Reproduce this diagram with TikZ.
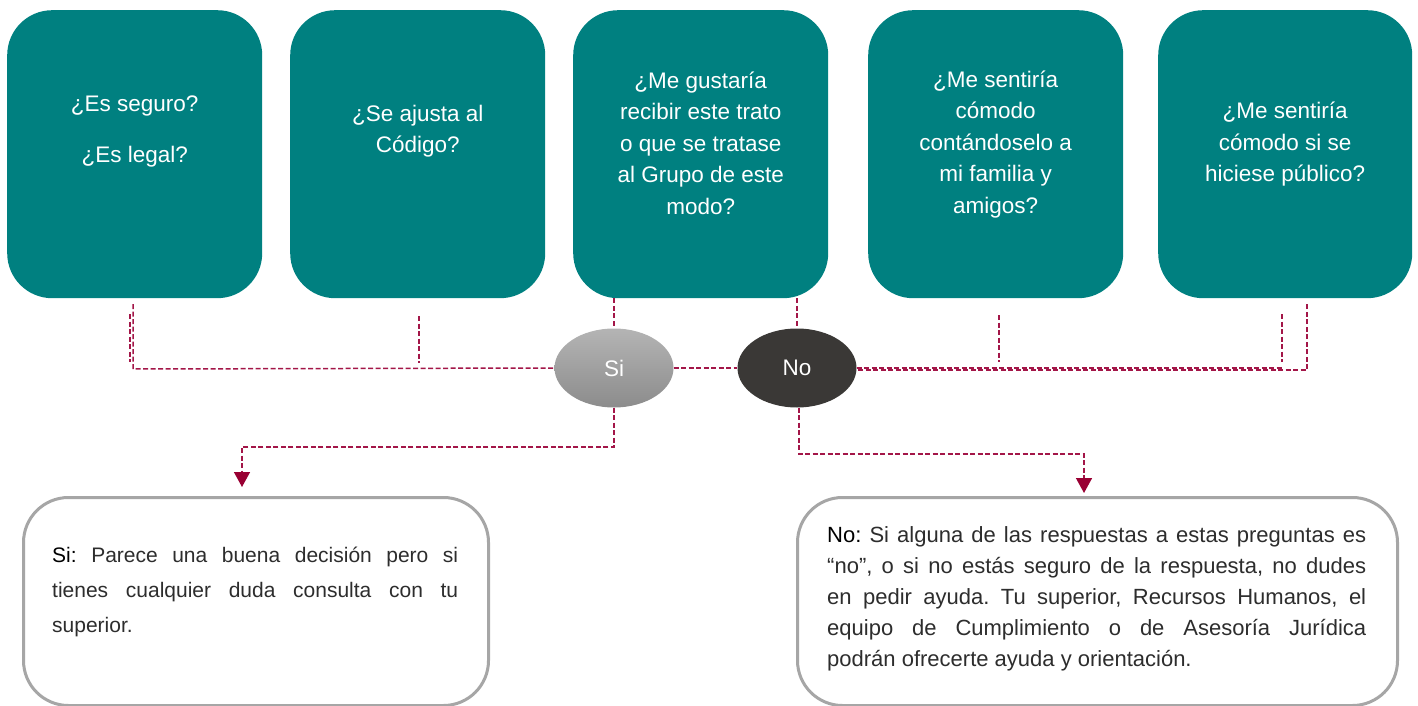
\documentclass[tikz,border=0pt]{standalone}
\usepackage{fontspec}
\setmainfont{Liberation Sans}
\usetikzlibrary{shapes.geometric,arrows.meta}
\definecolor{tealbox}{RGB}{0,128,128}
\definecolor{conncol}{RGB}{163,22,72}
\definecolor{arrowcol}{RGB}{153,0,51}
\definecolor{framecol}{RGB}{166,166,166}
\definecolor{nofill}{RGB}{58,56,54}
\definecolor{bodytext}{RGB}{45,45,45}
\frenchspacing
\begin{document}
\begin{tikzpicture}[x=1pt,y=-1pt,
  qbox/.style={fill=tealbox, rounded corners=45pt, minimum width=255pt, minimum height=288pt, anchor=north west, inner sep=0pt},
  qtext/.style={text=white, align=center, inner sep=0pt, font=\fontsize{22.5}{31.5}\selectfont},
  abox/.style={draw=framecol, line width=3pt, fill=white, rounded corners=45pt, minimum height=208pt, anchor=north west, inner sep=0pt},
  answer/.style={ellipse, minimum width=119pt, minimum height=79pt, inner sep=0pt, text=white, font=\fontsize{22.5}{27}\selectfont},
  conn/.style={draw=conncol, line width=1.5pt, dash pattern=on 5pt off 2.5pt},
  arr/.style={conn, -{Triangle[width=16pt,length=15pt,color=arrowcol]}}
]
\useasboundingbox (0,0) rectangle (1418,706);

% question boxes
\node[qbox] (b1) at (7,10) {};
\node[qbox] (b2) at (290,10) {};
\node[qbox] (b3) at (573,10) {};
\node[qbox] (b4) at (868,10) {};
\node[qbox, minimum width=254pt] (b5) at (1158,10) {};

\node[qtext] (t1) at ([yshift=23pt]b1.center) {¿Es seguro?\\[19.5pt]¿Es legal?};
\node[qtext] (t2) at ([yshift=23pt]b2.center) {¿Se ajusta al\\Código?};
\node[qtext] (t3) at ([yshift=11pt]b3.center) {¿Me gustaría\\recibir este trato\\o que se tratase\\al Grupo de este\\modo?};
\node[qtext] (t4) at ([yshift=10pt]b4.center) {¿Me sentiría\\cómodo\\contándoselo a\\mi familia y\\amigos?};
\node[qtext] (t5) at ([yshift=10pt]b5.center) {¿Me sentiría\\cómodo si se\\hiciese público?};

% answer ellipses
\node[answer, top color={rgb,255:red,180;green,180;blue,180}, bottom color={rgb,255:red,140;green,140;blue,140}] (si) at (614,368) {Si};
\node[answer, fill=nofill] (no) at (797,368) {No};

% answer boxes
\node[abox, minimum width=465pt] (bs) at (22,496) {};
\node[abox, minimum width=600pt] (bn) at (796,496) {};

\node[anchor=north west, inner sep=0pt, text width=406pt, align=justify, text=bodytext,
      font=\fontsize{21}{35}\selectfont] (ts) at (52,547)
  {\textcolor{black}{Si:} Parece una buena decisión pero si\linebreak tienes cualquier duda consulta con tu\linebreak superior.};
\node[anchor=north west, inner sep=0pt, text width=539pt, align=justify, text=bodytext,
      font=\fontsize{22}{31}\selectfont] (tn) at (827,526)
  {\textcolor{black}{No:} Si alguna de las respuestas a estas preguntas es\linebreak “no”, o si no estás seguro de la respuesta, no dudes\linebreak en pedir ayuda. Tu superior, Recursos Humanos, el\linebreak equipo de Cumplimiento o de Asesoría Jurídica\linebreak podrán ofrecerte ayuda y orientación.};

% connector coordinates
\coordinate (l1a) at (130,314); \coordinate (l1b) at (130,362);
\coordinate (l1c) at (133,304); \coordinate (l1d) at (133,369);
\coordinate (l2a) at (419,316); \coordinate (l2b) at (419,363);
\coordinate (l4a) at (999,315); \coordinate (l4b) at (999,362);
\coordinate (l5a) at (1282,314); \coordinate (l5b) at (1282,362);
\coordinate (l5c) at (1307,304); \coordinate (l5d) at (1307,370);
\coordinate (r1) at (1282,368); \coordinate (r2) at (858,370);
\coordinate (sd) at (614,447); \coordinate (sl) at (242,447); \coordinate (st) at (242,487);
\coordinate (nd) at (799,454); \coordinate (nr) at (1084,454); \coordinate (nt) at (1084,493);

% connectors
\draw[conn] (l1a) -- (l1b);
\draw[conn] (l1c) -- (l1d) -- (si.west);
\draw[conn] (l2a) -- (l2b);
\draw[conn] (b3.south -| si.north) -- (si.north);
\draw[conn] (b3.south -| no.north) -- (no.north);
\draw[conn] (si.east) -- (no.west);
\draw[conn] (l4a) -- (l4b);
\draw[conn] (l5a) -- (l5b);
\draw[conn] (no.east) -- (r1);
\draw[conn] (r2) -- (l5d) -- (l5c);
\draw[arr] (si.south) -- (sd) -- (sl) -- (st);
\draw[arr] (no.south -| nd) -- (nd) -- (nr) -- (nt);
\end{tikzpicture}
\end{document}
